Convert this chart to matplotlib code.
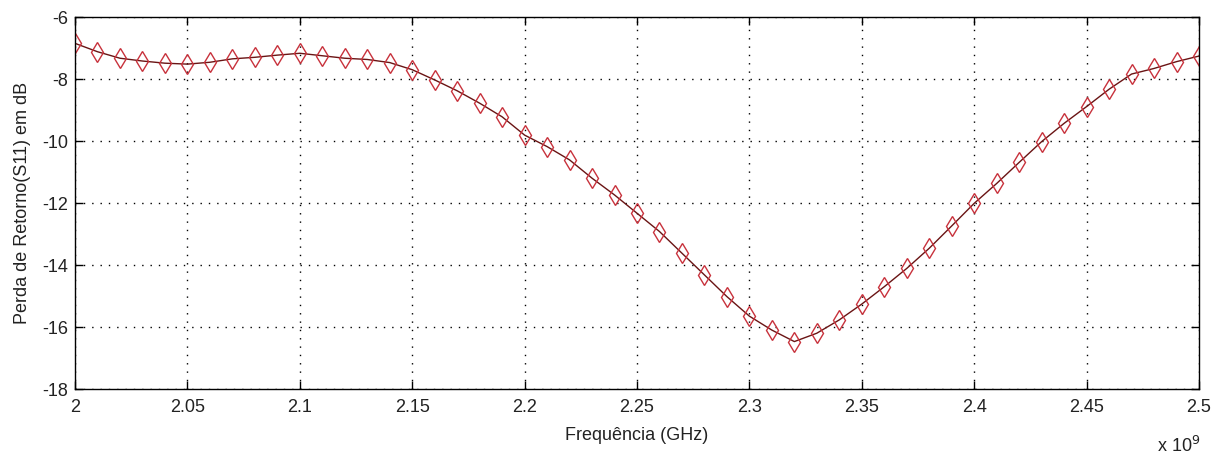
import numpy as np
import matplotlib
matplotlib.use("Agg")
import matplotlib.pyplot as plt

# Frequency sweep (Hz) and return loss S11 (dB)
freq_hz = np.arange(51) * 0.01e9 + 2.0e9
s11_db = [
    -6.85, -7.12, -7.33, -7.42, -7.49, -7.52, -7.46, -7.35, -7.30, -7.23,
    -7.17, -7.25, -7.33, -7.37, -7.47, -7.70, -8.03, -8.38, -8.78, -9.22,
    -9.81, -10.18, -10.61, -11.20, -11.74, -12.33, -12.92, -13.62, -14.32, -15.02,
    -15.65, -16.10, -16.47, -16.20, -15.77, -15.26, -14.70, -14.11, -13.46, -12.74,
    -12.01, -11.37, -10.69, -10.02, -9.43, -8.89, -8.33, -7.84, -7.66, -7.44,
    -7.26,
]
x_ticks = [2.0, 2.05, 2.1, 2.15, 2.2, 2.25, 2.3, 2.35, 2.4, 2.45, 2.5]
x_tick_labels = ["2", "2.05", "2.1", "2.15", "2.2", "2.25", "2.3", "2.35", "2.4", "2.45", "2.5"]
y_ticks = [-18, -16, -14, -12, -10, -8, -6]

plt.rcParams["font.family"] = ["Liberation Sans", "DejaVu Sans"]

fig = plt.figure(figsize=(12.23, 4.55), dpi=100)
ax = fig.add_axes([75 / 1223, 1 - 389 / 455, (1199 - 75) / 1223, (389 - 17) / 455])

ax.plot(freq_hz, s11_db, color="#6a1414", linewidth=1.0,
        marker="d", markersize=10, markerfacecolor="none",
        markeredgecolor="#c8323c", markeredgewidth=1.0)

ax.set_xlim(2.0e9, 2.5e9)
ax.set_ylim(-18, -6)
ax.set_xticks([v * 1e9 for v in x_ticks])
ax.set_xticklabels(x_tick_labels)
ax.set_yticks(y_ticks)
ax.set_yticklabels([str(v) for v in y_ticks])

ax.grid(True, linestyle=(0, (1, 5)), color="black", linewidth=1.0)
ax.tick_params(direction="in", length=6, width=1.0, labelsize=13, top=True, right=True,
               colors="black", labelcolor="#222222", pad=5)
ax.tick_params(axis="x", pad=7)
for sp in ax.spines.values():
    sp.set_linewidth(1.0)

ax.set_xlabel("Frequência (GHz)", fontsize=13, labelpad=8, color="#222222")
ax.set_ylabel("Perda de Retorno(S11) em dB", fontsize=13, labelpad=8, color="#222222")

fig.text(1157 / 1223, 1 - 446 / 455, r"x 10$^{9}$", fontsize=13, va="center", ha="left",
         color="#222222")

fig.savefig("out.png", dpi=100, facecolor="white")
